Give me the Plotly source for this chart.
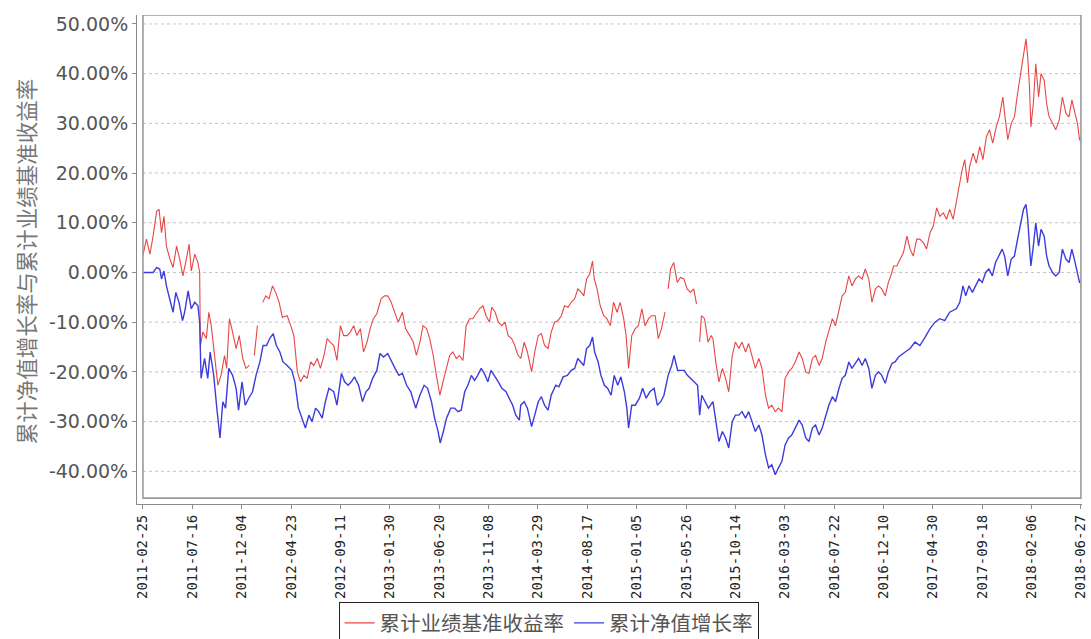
import plotly.graph_objects as go
import pandas as pd

START = "2011-02-25"
x_tick_labels = ["2011-02-25", "2011-07-16", "2011-12-04", "2012-04-23", "2012-09-11",
                 "2013-01-30", "2013-06-20", "2013-11-08", "2014-03-29", "2014-08-17",
                 "2015-01-05", "2015-05-26", "2015-10-14", "2016-03-03", "2016-07-22",
                 "2016-12-10", "2017-04-30", "2017-09-18", "2018-02-06", "2018-06-27"]
y_tick_values = [-40, -30, -20, -10, 0, 10, 20, 30, 40, 50]

# 累计业绩基准收益率 (days since start, percent)
red_days = [0, 10, 20, 29, 39, 46, 53, 60, 67, 77,
            86, 96, 105, 114, 124, 132, 138, 148, 157, 162,
            164, 171, 181, 188, 195, 204, 214, 223, 233, 239,
            247, 256, 266, 275, 285, 294, 304, 310, 318, 327,
            333, 342, 351, 360, 370, 379, 389, 398, 412, 422,
            431, 441, 450, 460, 469, 479, 488, 498, 507, 517,
            526, 535,
            545, 554, 564, 573, 583, 592, 602, 611, 621, 630,
            640, 649, 658, 668, 680, 690, 699, 709, 720, 729,
            741, 750, 762, 772, 781, 791, 800, 810, 819, 829,
            838, 848, 857, 867, 876, 885, 895, 904, 914, 923,
            933, 942, 952, 961, 971, 980, 990, 996, 1006, 1015,
            1025, 1034, 1043, 1053, 1062, 1070,
            1079, 1089, 1098, 1110, 1119, 1129, 1138, 1147, 1157, 1166,
            1176, 1185, 1195, 1204, 1214, 1223, 1233, 1242, 1252, 1259,
            1267, 1276, 1284, 1289, 1297, 1306, 1316, 1325, 1335, 1344,
            1354, 1363, 1373, 1380, 1387, 1396, 1406, 1415, 1425, 1434,
            1444, 1453, 1463, 1472, 1481, 1491, 1495, 1500, 1507, 1516,
            1526, 1535, 1545, 1554, 1564, 1573, 1581, 1586, 1590, 1595,
            1604, 1614, 1623,
            1628, 1636, 1645, 1655, 1664, 1673, 1683, 1692, 1702, 1711,
            1721, 1730, 1740, 1749, 1759, 1768, 1778, 1787, 1796, 1806,
            1815, 1825, 1834, 1844, 1853, 1863, 1874, 1883, 1893, 1902,
            1912, 1921, 1931, 1940, 1950, 1959, 1969, 1978, 1988, 1997,
            2006, 2016, 2025, 2035, 2044, 2054, 2063, 2073, 2082, 2092,
            2101, 2110, 2120, 2129, 2139,
            2144, 2153, 2163, 2172, 2182, 2191, 2200, 2210, 2219, 2229,
            2238, 2248, 2257, 2267, 2276, 2286, 2295, 2304, 2314, 2323,
            2331, 2340, 2347, 2355, 2361, 2371, 2380, 2390, 2399, 2409,
            2418, 2427, 2437, 2446, 2456, 2461, 2470, 2480, 2489, 2498,
            2508, 2517, 2522, 2527, 2532, 2536, 2543, 2550, 2558, 2565,
            2574, 2581, 2588, 2598, 2607, 2617, 2626, 2636, 2645, 2653,
            2659, 2669, 2675, 2679]
red_vals = [3.5, 6.7, 3.7, 7.3, 12.3, 12.7, 8.0, 11.3, 5.3, 2.7,
            1.0, 5.3, 2.7, -0.7, 2.7, 5.7, 0.3, 3.7, 2.0, 0.0,
            -14.7, -12.0, -13.3, -8.0, -10.7, -16.7, -22.7, -20.7, -16.7, -19.3,
            -9.3, -12.0, -15.3, -12.7, -17.3, -19.3, -18.7, None, -16.7, -10.7,
            None, -6.0, -4.7, -5.3, -2.7, -4.0, -6.0, -9.0, -8.7, -10.7,
            -12.7, -20.0, -22.0, -20.7, -21.3, -18.0, -18.7, -17.3, -19.3, -16.7,
            -13.3, -14.0,
            -14.7, -17.7, -10.7, -12.7, -12.7, -12.0, -10.7, -12.7, -11.3, -16.0,
            -14.0, -11.3, -9.3, -8.3, -5.3, -4.7, -4.7, -6.0, -8.0, -10.0,
            -8.0, -11.3, -12.7, -14.0, -16.7, -14.0, -10.7, -11.3, -13.3, -16.7,
            -20.7, -24.7, -22.0, -19.3, -16.7, -16.0, -17.3, -16.7, -17.7, -10.7,
            -9.3, -9.3, -8.3, -7.3, -6.7, -8.7, -10.0, -7.0, -8.0, -10.0,
            -10.7, -10.0, -12.7, -13.3, -14.7, -16.5,
            -17.3, -14.0, -16.0, -20.0, -16.0, -12.7, -12.3, -14.7, -15.3, -12.0,
            -10.0, -9.7, -8.7, -6.7, -7.0, -6.0, -5.3, -3.3, -4.0, -4.7,
            -1.3, -0.3, 2.3, -1.3, -3.3, -6.7, -8.7, -9.3, -10.7, -6.0,
            -8.0, -6.0, -9.3, -12.7, -19.3, -12.7, -11.3, -10.7, -7.3, -10.7,
            -9.3, -8.7, -8.7, -13.3, -11.3, -8.0, None, -3.3, 0.7, 2.0,
            -2.0, -1.0, -1.3, -3.3, -4.0, -3.3, -6.3, None, -14.0, -8.7,
            -9.3, -14.0, -12.7,
            -13.3, -18.0, -22.0, -19.3, -21.3, -24.0, -16.7, -14.0, -15.3, -14.0,
            -16.0, -14.3, -16.7, -19.3, -17.3, -19.3, -24.7, -27.3, -26.7, -28.0,
            -27.3, -28.0, -21.3, -20.0, -19.3, -18.0, -16.0, -17.3, -20.0, -20.3,
            -17.3, -16.7, -18.7, -17.3, -14.0, -12.0, -9.3, -10.7, -7.3, -4.7,
            -4.0, -0.7, -2.7, -1.3, -0.7, -1.3, 0.7, -1.3, -6.0, -3.3,
            -2.7, -3.3, -4.7, -2.0, 0.0,
            1.3, 1.3, 2.7, 4.0, 7.3, 4.7, 3.3, 6.7, 6.7, 6.0,
            4.7, 8.0, 9.3, 13.0, 11.3, 12.0, 10.7, 12.7, 10.7, 14.7,
            17.3, 20.7, 22.7, 18.0, 21.3, 24.0, 22.0, 25.3, 22.7, 27.3,
            28.7, 26.0, 29.3, 31.3, 35.3, 32.0, 26.7, 30.0, 31.3, 36.0,
            40.7, 45.3, 47.0, 43.3, 37.3, 29.3, 34.0, 42.0, 35.3, 40.0,
            38.7, 34.0, 31.3, 30.0, 28.7, 30.7, 35.3, 32.0, 31.3, 34.7,
            32.7, 30.0, 26.7, 26.5]

# 累计净值增长率 (days since start, percent)
blue_days = [0, 29, 39, 48, 53, 60, 67, 77, 86, 94,
             103, 113, 119, 129, 138, 148, 157, 162, 166, 176,
             185, 192, 202, 211, 220, 228, 236, 245, 256, 266,
             273, 283, 292, 302, 313, 323, 334, 343, 353, 362,
             372, 381, 391, 400, 412, 425, 434, 444, 455, 464,
             474, 483, 493, 502, 512, 521, 531,
             545, 554, 567, 576, 586, 595, 604, 616, 627, 637,
             646, 656, 668, 677, 687, 699, 710, 720, 731, 741,
             753, 765, 779, 791, 803, 813, 824, 833, 843, 849,
             858, 867, 879, 890, 900, 909, 919, 928, 938, 947,
             956, 966, 975, 985, 994, 1004, 1015, 1025, 1037, 1046,
             1056, 1065, 1075,
             1079, 1089, 1098, 1110, 1119, 1129, 1138, 1147, 1157, 1166,
             1179, 1188, 1200, 1212, 1223, 1233, 1242, 1252, 1259, 1267,
             1276, 1284, 1290, 1300, 1308, 1318, 1327, 1337, 1346, 1356,
             1365, 1375, 1382, 1387, 1396, 1406, 1418, 1427, 1437, 1448,
             1460, 1469, 1479, 1488, 1500, 1510, 1517, 1527, 1536, 1546,
             1555, 1565, 1574, 1584, 1590, 1596, 1605, 1615,
             1628, 1636, 1645, 1655, 1664, 1673, 1683, 1692, 1702, 1711,
             1721, 1730, 1740, 1749, 1759, 1768, 1778, 1787, 1796, 1806,
             1815, 1825, 1834, 1844, 1853, 1863, 1874, 1883, 1893, 1902,
             1912, 1921, 1931, 1940, 1950, 1959, 1969, 1978, 1988, 1997,
             2006, 2016, 2025, 2035, 2044, 2054, 2063, 2073, 2082, 2092,
             2101, 2110, 2120, 2129, 2139, 2148, 2158,
             2177, 2191, 2205, 2219, 2234, 2248, 2262, 2276, 2290, 2304,
             2323, 2333, 2342, 2350, 2359, 2369, 2378, 2388, 2397, 2407,
             2416, 2426, 2435, 2445, 2454, 2461, 2470, 2480, 2489, 2498,
             2508, 2515, 2522, 2527, 2532, 2536, 2543, 2550, 2558, 2565,
             2574, 2581, 2588, 2598, 2607, 2617, 2626, 2636, 2645, 2653,
             2660, 2669, 2675, 2679]
blue_vals = [0.0, 0.0, 1.0, 0.7, -1.3, 0.3, -2.7, -5.3, -8.0, -4.0,
             -6.0, -9.7, -8.0, -3.7, -7.3, -6.0, -6.7, -10.0, -21.3, -17.3,
             -21.3, -16.0, -20.7, -27.3, -33.3, -26.0, -27.3, -19.3, -20.7, -23.3,
             -27.7, -22.0, -26.7, -25.3, -24.0, -20.7, -18.0, -14.7, -14.7, -13.3,
             -12.3, -14.7, -16.0, -18.0, -18.7, -19.7, -22.0, -27.3, -29.3, -31.3,
             -28.7, -30.0, -27.3, -28.0, -29.3, -26.0, -23.3,
             -24.0, -26.7, -20.3, -22.0, -22.7, -22.0, -21.0, -22.7, -26.0, -24.0,
             -23.3, -21.3, -19.7, -16.3, -17.0, -16.3, -18.0, -19.3, -20.7, -20.3,
             -22.7, -24.0, -27.3, -24.7, -22.7, -23.3, -26.0, -29.3, -32.0, -34.3,
             -32.0, -29.3, -27.3, -27.3, -28.0, -27.7, -24.0, -22.7, -20.7, -21.7,
             -20.7, -19.3, -20.3, -22.0, -19.7, -20.7, -22.0, -23.3, -24.0, -25.3,
             -26.7, -28.7, -29.7,
             -26.7, -26.0, -27.3, -31.0, -28.7, -26.0, -25.0, -26.7, -27.7, -24.7,
             -22.7, -23.0, -21.0, -20.7, -19.7, -19.3, -17.3, -18.0, -18.7, -15.3,
             -14.7, -13.0, -16.0, -18.0, -20.7, -22.7, -23.3, -24.7, -20.7, -22.7,
             -21.0, -24.0, -27.3, -31.3, -26.7, -26.7, -25.3, -23.3, -25.3, -24.0,
             -23.3, -26.7, -26.0, -24.7, -20.7, -18.7, -16.7, -19.7, -19.7, -19.7,
             -20.7, -21.3, -22.0, -22.7, -28.7, -24.7, -26.0, -27.3,
             -26.0, -30.0, -34.0, -32.0, -33.3, -35.3, -30.0, -28.7, -28.7, -28.0,
             -29.3, -28.0, -30.0, -32.0, -30.7, -32.7, -36.7, -39.3, -38.7, -40.7,
             -39.3, -38.0, -34.7, -33.3, -32.7, -31.3, -29.7, -30.7, -33.3, -34.0,
             -31.3, -30.7, -32.7, -31.3, -28.7, -26.7, -25.0, -26.0, -23.3, -21.3,
             -20.7, -18.0, -19.3, -18.3, -17.3, -18.7, -17.3, -19.3, -23.3, -20.7,
             -20.0, -20.7, -22.3, -20.0, -18.3, -18.0, -17.0,
             -16.0, -15.3, -14.0, -14.7, -13.0, -11.3, -10.0, -9.3, -9.7, -8.0,
             -7.3, -6.0, -2.7, -4.7, -2.7, -4.0, -2.7, -1.3, -2.0, 0.0,
             0.7, -0.7, 2.0, 3.3, 4.7, 3.3, -0.7, 2.7, 3.3, 6.7,
             10.0, 12.7, 13.7, 10.7, 5.3, 1.3, 5.3, 10.0, 5.3, 8.7,
             7.3, 3.3, 1.3, 0.0, -0.7, 0.0, 4.7, 2.7, 2.0, 4.7,
             2.7, 0.0, -2.0, -2.0]

start = pd.Timestamp(START)
red_x = [start + pd.Timedelta(days=d) for d in red_days]
blue_x = [start + pd.Timedelta(days=d) for d in blue_days]
end = pd.Timestamp(x_tick_labels[-1])

fig = go.Figure()
fig.add_trace(go.Scatter(x=red_x, y=red_vals, mode="lines", name="累计业绩基准收益率",
                         line=dict(color="#e84545", width=1.1), connectgaps=False))
fig.add_trace(go.Scatter(x=blue_x, y=blue_vals, mode="lines", name="累计净值增长率",
                         line=dict(color="#3c3cdc", width=1.4)))

shapes = []
y_top = 51.8
y_frame_bottom = -45.4
for v in y_tick_values:
    shapes.append(dict(type="line", xref="x", yref="y", x0=start, x1=end, y0=v, y1=v,
                       line=dict(color="#c4c4c4", width=1, dash="3px,3px"), layer="below"))
shapes.append(dict(type="rect", xref="x", yref="y", x0=start, x1=end, y0=y_frame_bottom, y1=y_top,
                   line=dict(color="#9a9a9a", width=1.6), layer="above"))

fig.update_layout(
    width=1091, height=639,
    margin=dict(l=137, r=3, t=15, b=132),
    plot_bgcolor="white", paper_bgcolor="white",
    shapes=shapes,
    showlegend=True,
    legend=dict(orientation="h", xref="container", yref="container",
                x=0.5028, xanchor="center", y=0.0579, yanchor="top",
                bordercolor="#222222", borderwidth=1, bgcolor="white",
                font=dict(family="Noto Sans CJK SC", size=20.5, color="#555555"),
                itemwidth=30),
    annotations=[dict(text="累计净值增长率与累计业绩基准收益率", textangle=-90,
                      xref="paper", yref="paper", x=-0.1178, y=0.496,
                      xanchor="center", yanchor="middle", showarrow=False,
                      font=dict(family="Noto Sans CJK SC", size=21.5, color="#777777"))],
)
fig.update_xaxes(type="date",
                 range=[start - pd.Timedelta(days=17), start + pd.Timedelta(days=2682)],
                 tickvals=x_tick_labels, ticktext=x_tick_labels, tickangle=-90,
                 ticklabeloverflow="allow",
                 tickfont=dict(family="DejaVu Sans Mono", size=14, color="#222222"),
                 showgrid=False, zeroline=False, showline=True, linecolor="#8a8a8a", linewidth=1,
                 ticks="outside", ticklen=4, tickcolor="#8a8a8a")
fig.update_yaxes(range=[-46.6, y_top],
                 tickvals=y_tick_values, ticktext=[f"{v:.2f}%" for v in y_tick_values],
                 tickfont=dict(family="DejaVu Sans", size=19, color="#555555"),
                 showgrid=False, zeroline=False, showline=True, linecolor="#8a8a8a", linewidth=1,
                 ticks="outside", ticklen=4, tickcolor="#8a8a8a")

fig.write_html("out.html", config={"displayModeBar": False},
               post_script="document.body.style.margin='0px';")
